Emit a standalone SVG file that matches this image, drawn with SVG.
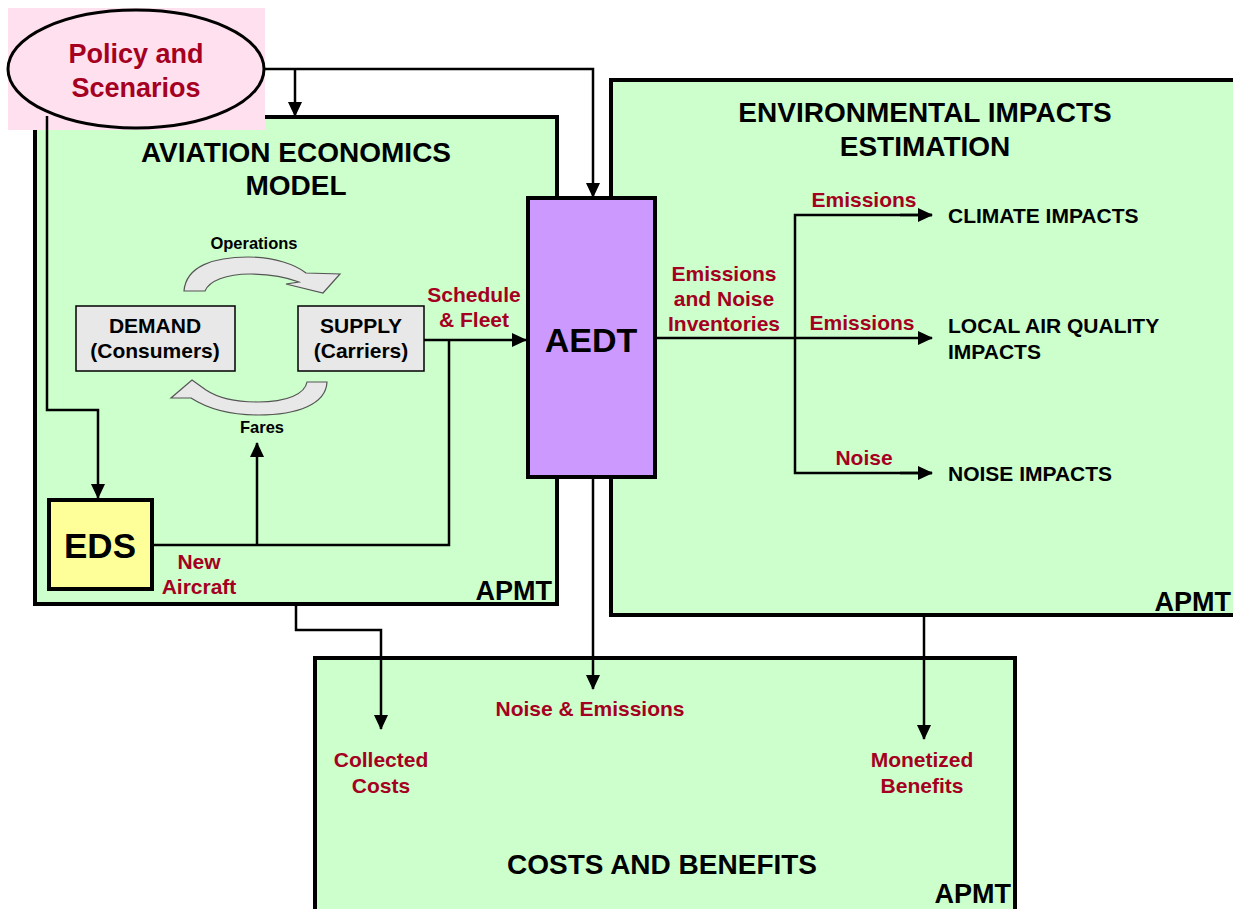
<svg xmlns="http://www.w3.org/2000/svg" width="1233" height="909" viewBox="0 0 1233 909">
<style>
text{font-family:"Liberation Sans",Arial,sans-serif;font-weight:bold}
.box{fill:#CCFFCC;stroke:#000;stroke-width:4}
.title{font-size:28px;fill:#000;text-anchor:middle}
.apmt{font-size:27px;fill:#000;text-anchor:end}
.red{font-size:21px;fill:#A50021;text-anchor:middle}
.blk{font-size:21px;fill:#000}
.small{font-size:16.5px;fill:#000;text-anchor:middle}
.gbox{fill:#E8E8E8;stroke:#000;stroke-width:1.5}
.curv{fill:#E8E8E8;stroke:#555;stroke-width:1.2}
.c{fill:none;stroke:#000;stroke-width:2.5}
</style>
<defs>
<marker id="ah" markerWidth="15" markerHeight="14" refX="14" refY="7" orient="auto" markerUnits="userSpaceOnUse">
<path d="M0,0 L15,7 L0,14 Z" fill="#000"/>
</marker>
</defs>
<rect width="1233" height="909" fill="#fff"/>

<g id="aeam">
<rect class="box" x="35" y="117" width="522" height="487"/>
<text class="title" x="296" y="162">AVIATION ECONOMICS</text>
<text class="title" x="296" y="195">MODEL</text>
<text class="apmt" x="552" y="600">APMT</text>
</g>

<g id="env">
<rect class="box" x="611" y="80" width="640" height="535"/>
<text class="title" x="925" y="122">ENVIRONMENTAL IMPACTS</text>
<text class="title" x="925" y="156">ESTIMATION</text>
<text class="apmt" x="1231" y="611">APMT</text>
<text class="blk" x="948" y="223">CLIMATE IMPACTS</text>
<text class="blk" x="948" y="333">LOCAL AIR QUALITY</text>
<text class="blk" x="948" y="359">IMPACTS</text>
<text class="blk" x="948" y="481">NOISE IMPACTS</text>
</g>

<g id="costs">
<rect class="box" x="315" y="658" width="700" height="270"/>
<text class="title" x="662" y="874">COSTS AND BENEFITS</text>
<text class="apmt" x="1011" y="903">APMT</text>
</g>

<g id="policy">
<rect x="8" y="8" width="257" height="122" fill="#FFE0EE"/>
<ellipse cx="136" cy="69" rx="128" ry="59" fill="#FFE0EE" stroke="#000" stroke-width="3"/>
<text class="red" style="font-size:27px" x="136" y="63">Policy and</text>
<text class="red" style="font-size:27px" x="136" y="97">Scenarios</text>
</g>

<g id="aedt">
<rect x="528" y="198" width="127" height="279" fill="#CC99FF" stroke="#000" stroke-width="4"/>
<text x="591" y="352" style="font-size:34px;text-anchor:middle">AEDT</text>
</g>

<g id="eds">
<rect x="49" y="500" width="103" height="89" fill="#FFFF99" stroke="#000" stroke-width="4"/>
<text x="100" y="558" style="font-size:35px;text-anchor:middle">EDS</text>
</g>

<g id="demand">
<rect class="gbox" x="76" y="306" width="159" height="65"/>
<text class="blk" x="155" y="333" text-anchor="middle">DEMAND</text>
<text class="blk" x="155" y="358" text-anchor="middle">(Consumers)</text>
</g>

<g id="supply">
<rect class="gbox" x="298" y="306" width="126" height="65"/>
<text class="blk" x="361" y="333" text-anchor="middle">SUPPLY</text>
<text class="blk" x="361" y="358" text-anchor="middle">(Carriers)</text>
</g>

<g id="cycle">
<path class="curv" d="M184,291 C186,266 214,257 248,257 C275,257 296,265 306,273 L340,274 L323,293 L286,284 L299,282 C286,277 270,274 250,274 C226,274 209,281 205,291 Z"/>
<path class="curv" d="M327,382 C326,404 298,415 258,415 C228,415 205,407 191,398 L171,398 L192,380 L206,390 C218,398 236,402 258,402 C287,402 305,394 307,382 Z"/>
<text class="small" x="254" y="249">Operations</text>
<text class="small" x="262" y="433">Fares</text>
</g>

<g id="connectors">
<polyline class="c" points="265,69 593,69 593,197" marker-end="url(#ah)"/>
<line class="c" x1="295" y1="69" x2="295" y2="116" marker-end="url(#ah)"/>
<polyline class="c" points="47,116 47,410 98,410 98,498" marker-end="url(#ah)"/>
<polyline class="c" points="152,545 449,545 449,340"/>
<line class="c" x1="257" y1="545" x2="257" y2="443" marker-end="url(#ah)"/>
<line class="c" x1="424" y1="340" x2="526" y2="340" marker-end="url(#ah)"/>
<line class="c" x1="656" y1="338" x2="932" y2="338" marker-end="url(#ah)"/>
<polyline class="c" points="932,215 795,215 795,473 932,473"/>
<line class="c" x1="900" y1="215" x2="932" y2="215" marker-end="url(#ah)"/>
<line class="c" x1="900" y1="473" x2="932" y2="473" marker-end="url(#ah)"/>
<polyline class="c" points="296,604 296,630 381,630 381,729" marker-end="url(#ah)"/>
<line class="c" x1="593" y1="478" x2="593" y2="689" marker-end="url(#ah)"/>
<line class="c" x1="924" y1="615" x2="924" y2="739" marker-end="url(#ah)"/>
</g>

<g id="labels">
<text class="red" x="474" y="302">Schedule</text>
<text class="red" x="474" y="327">&amp; Fleet</text>
<text class="red" x="199" y="569">New</text>
<text class="red" x="199" y="594">Aircraft</text>
<text class="red" x="724" y="281">Emissions</text>
<text class="red" x="724" y="306">and Noise</text>
<text class="red" x="724" y="331">Inventories</text>
<text class="red" x="864" y="207">Emissions</text>
<text class="red" x="862" y="330">Emissions</text>
<text class="red" x="864" y="465">Noise</text>
<text class="red" x="590" y="716">Noise &amp; Emissions</text>
<text class="red" x="381" y="767">Collected</text>
<text class="red" x="381" y="793">Costs</text>
<text class="red" x="922" y="767">Monetized</text>
<text class="red" x="922" y="793">Benefits</text>
</g>
</svg>
